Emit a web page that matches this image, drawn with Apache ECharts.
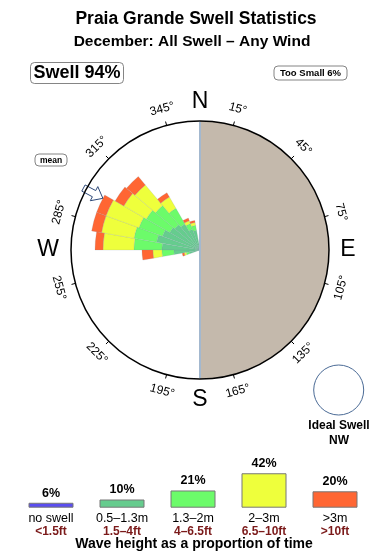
<!DOCTYPE html>
<html>
<head>
<meta charset="utf-8">
<script src="https://cdn.jsdelivr.net/npm/echarts@6/dist/echarts.min.js"></script>
<style>
html,body{margin:0;padding:0;background:#fff;}
#chart{width:390px;height:560px;}
</style>
</head>
<body>
<div id="chart"></div>
<script>
// ---- Data ----
// Rose: direction bins (compass degrees, start of a 10° bin) and stacked values (relative, outer circle = 100)
const binStarts   = [250, 260, 270, 280, 290, 300, 310, 320, 330, 340];
const teal05_13   = [8.5, 20.2, 29.5, 34.1, 31.0, 27.1, 25.6, 23.3, 17.1, 15.5];
const green13_2   = [2.3, 9.3, 21.7, 17.8, 19.4, 20.9, 19.4, 14.0, 4.7, 3.9];
const yellow2_3   = [1.6, 7.0, 24.0, 25.6, 27.1, 20.2, 20.9, 10.1, 2.3, 2.3];
const redOver3    = [1.6, 8.5, 6.2, 7.8, 7.8, 7.8, 8.5, 3.9, 2.3, 1.6];
const roseMax = 100;
const meanDir = 298;

// Compass tick labels
const tickAngles = [15, 45, 75, 105, 135, 165, 195, 225, 255, 285, 315, 345];
const cardinals = [['N', 0], ['E', 90], ['S', 180], ['W', 270]];

// Legend (wave height proportions)
const legendCats   = ['no swell', '0.5–1.3m', '1.3–2m', '2–3m', '>3m'];
const legendFeet   = ['<1.5ft', '1.5–4ft', '4–6.5ft', '6.5–10ft', '>10ft'];
const legendValues = [6, 10, 21, 42, 20];
const legendColors = ['#5B4EF0', '#66CC8E', '#6CFB6A', '#EEFF3C', '#FF6633'];

// ---- Layout ----
const CX = 200, CY = 250, R = 129;
const FONT = '"Liberation Sans", Arial, Helvetica, sans-serif';

// Build 36-bin arrays
const dirCats = [];
for (let d = 0; d < 360; d += 10) dirCats.push(String(d));
function fullBins(vals) {
  const arr = new Array(36).fill(0);
  binStarts.forEach((b, i) => { arr[b / 10] = vals[i]; });
  return arr;
}
const roseSeries = [
  {name: '0.5–1.3m', vals: teal05_13, color: '#66CC8E'},
  {name: '1.3–2m', vals: green13_2, color: '#6CFB6A'},
  {name: '2–3m', vals: yellow2_3, color: '#EEFF3C'},
  {name: '>3m', vals: redOver3, color: '#FF6633'}
].map(s => ({
  type: 'bar', coordinateSystem: 'polar', polarIndex: 0, stack: 'rose', name: s.name,
  data: fullBins(s.vals), barCategoryGap: '0%', barGap: '0%',
  itemStyle: {color: s.color, borderColor: 'rgba(120,140,160,0.35)', borderWidth: 0.5},
  silent: true, animation: false, z: 2
}));

// ---- Graphic elements ----
const g = [];
// Land (right half of circle)
g.push({type: 'sector', shape: {cx: CX, cy: CY, r: R, r0: 0, startAngle: -Math.PI / 2, endAngle: Math.PI / 2, clockwise: true},
  style: {fill: '#C4B9AC'}, z: 0, silent: true});
// Coastline
g.push({type: 'line', shape: {x1: CX, y1: CY - R + 1, x2: CX, y2: CY + R - 1},
  style: {stroke: '#A3B8CF', lineWidth: 2}, z: 3, silent: true});

function pt(deg, r) {
  const a = deg * Math.PI / 180;
  return [CX + r * Math.sin(a), CY - r * Math.cos(a)];
}
// Tick labels
tickAngles.forEach(t => {
  const p = pt(t, 146);
  let rot = (t > 90 && t < 270) ? t - 180 : (t >= 270 ? t - 360 : t);
  g.push({type: 'text', x: p[0], y: p[1], rotation: -rot * Math.PI / 180,
    style: {text: t + '°', fontSize: 12, fontFamily: FONT, fill: '#000', align: 'center', verticalAlign: 'middle'}, z: 5});
});
// Cardinal letters
const cardR = {N: 148, E: 148, S: 150, W: 152};
cardinals.forEach(c => {
  const p = pt(c[1], cardR[c[0]]);
  g.push({type: 'text', x: p[0], y: p[1],
    style: {text: c[0], fontSize: 23, fontFamily: FONT, fill: '#000', align: 'center', verticalAlign: 'middle'}, z: 5});
});
// Mean arrow (hollow, pointing inward)
(function () {
  const a = meanDir * Math.PI / 180;
  const u = [Math.sin(a), -Math.cos(a)];
  const v = [Math.cos(a), Math.sin(a)];
  const P = (r, w) => [CX + u[0] * r + v[0] * w, CY + u[1] * r + v[1] * w];
  const pts = [P(110, 0), P(120, 8), P(120, 3.5), P(132, 3.5), P(132, -3.5), P(120, -3.5), P(120, -8)];
  g.push({type: 'polygon', shape: {points: pts}, style: {fill: '#fff', stroke: '#2E4A7A', lineWidth: 1}, z: 6});
})();
// "mean" tag
g.push({type: 'rect', shape: {x: 35, y: 154, width: 32, height: 12, r: 4}, style: {fill: '#fff', stroke: '#666', lineWidth: 0.8}, z: 5});
g.push({type: 'text', x: 51, y: 160.5, style: {text: 'mean', fontSize: 8.5, fontWeight: 'bold', fontFamily: FONT, fill: '#000', align: 'center', verticalAlign: 'middle'}, z: 6});
// Titles
g.push({type: 'text', x: 196, y: 19.5, style: {text: 'Praia Grande Swell Statistics', fontSize: 17.5, fontWeight: 'bold', fontFamily: FONT, fill: '#000', align: 'center', verticalAlign: 'middle'}, z: 5});
g.push({type: 'text', x: 192, y: 42, style: {text: 'December: All Swell – Any Wind', fontSize: 15.5, fontWeight: 'bold', fontFamily: FONT, fill: '#000', align: 'center', verticalAlign: 'middle'}, z: 5});
// Swell / Too small boxes
g.push({type: 'rect', shape: {x: 30.5, y: 62.5, width: 93, height: 21, r: 4}, style: {fill: '#fff', stroke: '#666', lineWidth: 0.8}, z: 5});
g.push({type: 'text', x: 77, y: 73.5, style: {text: 'Swell 94%', fontSize: 18, fontWeight: 'bold', fontFamily: FONT, fill: '#000', align: 'center', verticalAlign: 'middle'}, z: 6});
g.push({type: 'rect', shape: {x: 274, y: 66, width: 73, height: 14, r: 4}, style: {fill: '#fff', stroke: '#666', lineWidth: 0.8}, z: 5});
g.push({type: 'text', x: 310.5, y: 73.5, style: {text: 'Too Small 6%', fontSize: 9.5, fontWeight: 'bold', fontFamily: FONT, fill: '#000', align: 'center', verticalAlign: 'middle'}, z: 6});
// Ideal swell
g.push({type: 'circle', shape: {cx: 338.7, cy: 390, r: 25}, style: {fill: '#fff', stroke: '#4B6B96', lineWidth: 1}, z: 5});
g.push({type: 'text', x: 339, y: 426, style: {text: 'Ideal Swell', fontSize: 12, fontWeight: 'bold', fontFamily: FONT, fill: '#000', align: 'center', verticalAlign: 'middle'}, z: 5});
g.push({type: 'text', x: 339, y: 441, style: {text: 'NW', fontSize: 12, fontWeight: 'bold', fontFamily: FONT, fill: '#000', align: 'center', verticalAlign: 'middle'}, z: 5});
// Caption
g.push({type: 'text', x: 194, y: 544.5, style: {text: 'Wave height as a proportion of time', fontSize: 14, fontWeight: 'bold', fontFamily: FONT, fill: '#000', align: 'center', verticalAlign: 'middle'}, z: 5});

const chart = echarts.init(document.getElementById('chart'), null, {renderer: 'canvas'});
chart.setOption({
  animation: false,
  backgroundColor: '#fff',
  textStyle: {fontFamily: FONT},
  polar: [
    {center: [CX, CY], radius: R},
    {center: [CX, CY], radius: R}
  ],
  angleAxis: [
    {polarIndex: 0, type: 'category', data: dirCats, startAngle: 90, clockwise: true, boundaryGap: true,
      axisLine: {show: false}, axisTick: {show: false}, axisLabel: {show: false}, splitLine: {show: false}},
    {polarIndex: 1, type: 'value', min: 0, max: 360, interval: 30, startAngle: 75, clockwise: true, z: 10,
      axisLine: {show: true, lineStyle: {color: '#000', width: 1.5}},
      axisTick: {show: true, length: 4, lineStyle: {color: '#000', width: 1}},
      axisLabel: {show: false}, splitLine: {show: false}}
  ],
  radiusAxis: [
    {polarIndex: 0, type: 'value', min: 0, max: roseMax, show: false, axisLine: {show: false}, splitLine: {show: false}, axisLabel: {show: false}, axisTick: {show: false}},
    {polarIndex: 1, type: 'value', min: 0, max: 1, show: false, axisLine: {show: false}, splitLine: {show: false}, axisLabel: {show: false}, axisTick: {show: false}}
  ],
  grid: [{left: 15.5, right: 19.5, top: 466.7, height: 41, containLabel: false}],
  xAxis: [{gridIndex: 0, type: 'category', data: legendCats,
    axisLine: {show: false}, axisTick: {show: false},
    axisLabel: {interval: 0, margin: 5,
      formatter: (v, i) => '{a|' + v + '}\n{b|' + legendFeet[i] + '}',
      rich: {
        a: {fontSize: 12.5, color: '#000', fontFamily: FONT, lineHeight: 12.5},
        b: {fontSize: 12, color: '#7B1A1A', fontWeight: 'bold', fontFamily: FONT, lineHeight: 12.5}
      }}}],
  yAxis: [{gridIndex: 0, type: 'value', min: 0, max: 50, show: false, splitLine: {show: false}}],
  series: roseSeries.concat([{
    type: 'bar', xAxisIndex: 0, yAxisIndex: 0, barWidth: 45,
    data: legendValues.map((v, i) => ({value: v, itemStyle: {color: legendColors[i]}})),
    itemStyle: {borderColor: '#777', borderWidth: 1},
    label: {show: true, position: 'top', distance: 3, formatter: '{c}%', fontSize: 12.5, fontWeight: 'bold', color: '#000', fontFamily: FONT},
    silent: true
  }]),
  graphic: {elements: g}
});
</script>
</body>
</html>
